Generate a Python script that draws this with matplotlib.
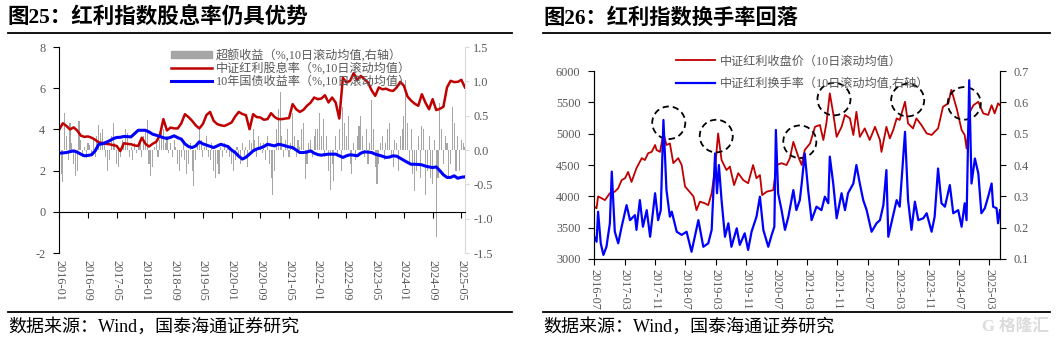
import numpy as np
import matplotlib
matplotlib.use("Agg")
import matplotlib.pyplot as plt
from matplotlib.patches import Ellipse, Patch
from matplotlib.lines import Line2D

plt.rcParams['font.family'] = ['Liberation Serif', 'Noto Sans CJK SC']
plt.rcParams['axes.unicode_minus'] = False

GREY_TXT = '#595959'
RED = '#c00000'
BLUE = '#0000ff'
BAR_GREY = '#a6a6a6'

# ---------- 图25 data: monthly, 2016-01 .. 2025-06 ----------
left_ticks = ['2016-01', '2016-09', '2017-05', '2018-01', '2018-09', '2019-05', '2020-01',
              '2020-09', '2021-05', '2022-01', '2022-09', '2023-05', '2024-01', '2024-09', '2025-05']

div_yield = [4.0, 4.3, 4.17, 4.0, 4.1, 3.95, 3.7, 3.64, 3.66, 3.6, 3.5, 3.37,
             3.35, 3.3, 3.28, 3.24, 3.2, 2.95, 3.33, 3.3, 3.28, 3.22, 3.2, 3.6,
             3.3, 3.17, 3.3, 3.4, 3.7, 4.5, 3.95, 4.09, 4.05, 4.05, 4.3, 4.74,
             4.6, 4.42, 4.2, 4.05, 4.26, 4.7, 4.85, 4.42, 4.26, 4.2, 4.17, 4.25,
             4.34, 4.63, 4.85, 4.75, 4.69, 4.01, 4.74, 4.6, 4.58, 4.47, 4.5, 4.79,
             4.6, 4.5, 4.5, 4.53, 4.55, 5.23, 4.98, 4.85, 4.95, 5.15, 5.3, 5.55,
             5.47, 5.5, 5.66, 5.31, 5.55, 5.3, 4.53, 6.5, 6.28, 6.36, 6.73, 6.4,
             6.6, 6.44, 6.28, 5.9, 5.63, 6.04, 5.95, 5.98, 5.9, 5.87, 6.04, 6.31,
             6.12, 5.6, 5.4, 5.25, 5.15, 5.71, 5.3, 4.98, 5.47, 4.94, 5.0, 5.1,
             6.04, 6.36, 6.3, 6.31, 6.41, 6.04]

bond_10y = [2.85, 2.86, 2.88, 2.92, 2.96, 2.9, 2.8, 2.72, 2.74, 2.77, 2.96, 3.28,
            3.3, 3.37, 3.45, 3.55, 3.61, 3.62, 3.66, 3.65, 3.64, 3.8, 3.96, 3.96,
            3.96, 3.88, 3.77, 3.72, 3.66, 3.6, 3.56, 3.62, 3.69, 3.6, 3.53, 3.3,
            3.17, 3.12, 3.2, 3.4, 3.3, 3.24, 3.18, 3.12, 3.2, 3.28, 3.22, 3.17,
            3.0, 2.88, 2.7, 2.56, 2.65, 2.8, 2.96, 3.05, 3.1, 3.17, 3.28, 3.24,
            3.2, 3.28, 3.25, 3.2, 3.15, 3.12, 3.0, 2.88, 2.88, 2.9, 2.96, 2.85,
            2.78, 2.75, 2.78, 2.8, 2.8, 2.8, 2.72, 2.64, 2.72, 2.77, 2.75, 2.72,
            2.85, 2.91, 2.9, 2.88, 2.8, 2.75, 2.7, 2.64, 2.66, 2.72, 2.7, 2.6,
            2.5, 2.4, 2.31, 2.31, 2.3, 2.28, 2.22, 2.18, 2.15, 2.18, 2.0, 1.8,
            1.67, 1.67, 1.75, 1.63, 1.68, 1.7]

# excess return, half-month steps (right axis)
excess = [0.05, -0.35, -0.46, 0.54, 0.2, -0.15, 0.39, 0.1, -0.2, -0.38, -0.3, 0.42,
          0.15, -0.1, 0.05, -0.12, 0.1, 0.08, -0.05, 0.15, -0.1, 0.2, 0.37, 0.25,
          0.3, 0.1, -0.1, -0.3, -0.15, 0.2, 0.4, 0.1, -0.2, -0.25, -0.1, 0.15,
          0.1, 0.3, 0.25, -0.1, 0.05, -0.15, 0.1, -0.05, 0.08, 0.15, -0.1, 0.2,
          0.3, 0.44, -0.2, -0.38, -0.25, 0.05, 0.1, -0.1, 0.15, 0.25, 0.3, 0.1,
          0.2, -0.05, 0.1, -0.1, 0.15, 0.05, -0.2, -0.3, -0.1, 0.1, -0.15, -0.35,
          -0.2, 0.1, -0.3, -0.53, -0.15, 0.1, 0.3, 0.15, -0.1, 0.05, 0.2, -0.1,
          -0.15, 0.1, -0.3, -0.4, -0.2, -0.35, 0.05, -0.1, 0.1, -0.05, 0.08, -0.1,
          -0.2, -0.3, -0.15, 0.05, -0.1, -0.2, 0.1, -0.15, 0.05, -0.25, 0.15, 0.1,
          0.3, 0.15, -0.1, 0.2, 0.1, -0.05, 0.1, -0.15, 0.2, -0.2, -0.4, -0.65,
          -0.3, 0.3, 0.6, 0.85, 0.2, -0.1, 0.15, 0.3, -0.1, 0.1, 0.54, 0.2,
          -0.1, 0.15, 0.05, 0.3, 0.39, -0.42, -0.2, 0.1, 0.15, -0.1, 0.2, 0.3,
          0.3, 0.54, 0.2, 0.45, -0.1, 0.2, -0.3, -0.58, -0.2, -0.45, 0.2, -0.1,
          0.3, -0.3, 0.63, 0.4, 0.2, 0.5, -0.2, -0.35, 0.1, -0.15, 0.2, 0.35,
          0.49, 0.2, -0.1, 0.3, -0.2, 0.1, 0.73, 0.3, -0.25, -0.5, -0.2, 0.1,
          0.2, -0.15, 0.1, 0.3, 0.4, -0.1, -0.25, 0.15, 0.1, -0.3, 0.2, 0.3,
          0.5, 1.02, 0.4, -0.2, 0.3, -0.35, -0.6, -0.3, 0.2, -0.4, 0.35, 0.3,
          -0.65, -0.3, 0.2, -0.4, -0.5, 0.15, -1.26, -0.4, 0.68, 0.3, -0.2, 0.2,
          0.1, -0.4, -0.2, 0.63, 0.4, -0.3, 0.2, -0.3, 0.15, 0.1, 0.05, -0.1]

# ---------- 图26 data: months after 2016-07 ----------
right_ticks = ['2016-07', '2017-03', '2017-11', '2018-07', '2019-03', '2019-11', '2020-07',
               '2021-03', '2021-11', '2022-07', '2023-03', '2023-11', '2024-07', '2025-03']

price_t = [0, 0.6, 1, 1.9, 2.8, 4.1, 5.4, 6.3, 7.2, 8.1, 8.9, 9.8, 11.1, 12.5, 13.3,
           14.2, 15.1, 16, 16.4, 17.3, 18.2, 19, 19.9, 20.8, 22.1, 23, 23.9, 24.7, 26.1, 26.9,
           27.8, 29.1, 30, 30.9, 31.8, 32.6, 33.5, 34.8, 35.7, 36.8, 37.9, 39.2, 40.5, 41.8, 42.7,
           43.6, 44.2, 45.4, 47.1, 48, 49.3, 50.6, 51.5, 52.4, 53.7, 54.6, 55.4, 56.8, 58.1, 59.4,
           60.3, 61.1, 62, 62.9, 63.8, 65.1, 66, 67.3, 68.2, 69, 69.9, 71.2, 72.5, 73.9, 75.2,
           75.6, 76.9, 77.8, 78.7, 79.6, 80.4, 81.8, 82.6, 83.9, 84.8, 86.1, 87.5, 88.8, 89.6, 90.5,
           91.8, 93.2, 94, 95.4, 96.7, 97.5, 98, 98.9, 99.8, 101.1, 102.4, 103.7, 104.6, 105.4, 106.3,
           106.8]
price_v = [3835, 3810, 4000, 3970, 3940, 4050, 4075, 4130, 4260, 4290, 4390, 4230, 4450, 4610, 4580,
           4690, 4710, 4820, 4740, 4710, 5005, 4820, 4845, 4530, 4610, 4500, 4155, 4100, 4000, 3780,
           3915, 3890, 3860, 4050, 4450, 5005, 4580, 4420, 4475, 4180, 4370, 4260, 4210, 4500, 4290,
           4340, 4020, 4075, 4100, 4500, 4530, 4500, 4610, 4870, 4635, 4500, 4740, 4845, 5110, 5140,
           4900, 5165, 5645, 5325, 4950, 5110, 5300, 5245, 4980, 5350, 4950, 5085, 4900, 5110, 4900,
           4710, 5110, 4925, 5060, 5245, 5220, 5510, 5165, 5085, 5245, 5140, 5005, 4980, 5030, 5085,
           5430, 5485, 5700, 5405, 5060, 4980, 4765, 5350, 5455, 5510, 5325, 5300, 5455, 5325, 5485,
           5455]

turn_t = [0, 0.6, 1, 1.7, 2.4, 3.2, 4.1, 4.6, 5.4, 6.3,
          7.2, 8.5, 9.4, 10.7, 11.1, 12, 12.8, 13.8, 14.7, 16,
          16.8, 17.5, 18.2, 19, 19.9, 20.4, 21.7, 23, 24.3, 25.6,
          27.4, 28.7, 30, 30.9, 31.8, 32.3, 32.8, 33.5, 34.4, 35.3,
          36.1, 37.5, 38.3, 39.6, 40.5, 41.4, 42.7, 43.6, 44.5, 45.8,
          46.7, 47.4, 47.8, 48.4, 49.3, 50.2, 51.1, 52.4, 53.2, 54.1,
          54.6, 55.4, 56.3, 57.2, 58.5, 59.8, 60.7, 61.6, 62, 62.9,
          63.8, 65.1, 66, 66.8, 68.2, 69, 69.9, 70.8, 71.7, 73,
          74.3, 75.2, 76.1, 76.9, 77.4, 78.2, 79.6, 80.4, 81.8, 82.6,
          83.5, 84.4, 85.3, 86.6, 87.5, 88.8, 89.6, 90.5, 91.4, 92.3,
          93.6, 94.5, 95.8, 96.7, 97.5, 98, 98.7, 99.3, 100.2, 101.1,
          101.9, 102.8, 103.7, 104.6, 105, 105.9, 106.3, 106.8]
turn_v = [0.171, 0.155, 0.251, 0.15, 0.113, 0.139, 0.214, 0.379, 0.187, 0.15,
          0.203, 0.272, 0.224, 0.24, 0.193, 0.288, 0.203, 0.256, 0.171, 0.31,
          0.224, 0.256, 0.544, 0.32, 0.235, 0.251, 0.187, 0.177, 0.187, 0.123,
          0.224, 0.139, 0.15, 0.193, 0.437, 0.31, 0.4, 0.288, 0.171, 0.214,
          0.139, 0.198, 0.145, 0.182, 0.129, 0.187, 0.235, 0.299, 0.193, 0.139,
          0.177, 0.203, 0.512, 0.31, 0.256, 0.193, 0.235, 0.32, 0.256, 0.288,
          0.341, 0.437, 0.32, 0.224, 0.267, 0.256, 0.299, 0.278, 0.427, 0.341,
          0.23, 0.31, 0.256, 0.31, 0.341, 0.4, 0.341, 0.288, 0.256, 0.187,
          0.214, 0.224, 0.272, 0.384, 0.171, 0.214, 0.288, 0.267, 0.506, 0.288,
          0.193, 0.283, 0.224, 0.23, 0.246, 0.187, 0.235, 0.389, 0.278, 0.267,
          0.336, 0.246, 0.256, 0.203, 0.278, 0.224, 0.671, 0.341, 0.421, 0.373,
          0.246, 0.262, 0.299, 0.341, 0.267, 0.262, 0.214, 0.256]

# dashed rings around the price peaks (month, price level)
ring_t = [19.6, 32.1, 54.1, 63.1, 82.5, 97.4]
ring_p = [5175, 4963, 4872, 5553, 5537, 5485]

fig = plt.figure(figsize=(10.62, 3.41), dpi=100)

# ================= 图25 =================
ax = fig.add_axes([0.0558, 0.258, 0.382, 0.604])
axr = ax.twinx()

m = np.arange(len(div_yield))
h = np.arange(len(excess)) / 2.0
axr.bar(h, excess, width=0.3, color=BAR_GREY, linewidth=0)
l1, = ax.plot(m, div_yield, color=RED, lw=1.8, label='中证红利股息率（%,10日滚动均值）')
l2, = ax.plot(m, bond_10y, color=BLUE, lw=2.2, label='10年国债收益率（%,10日滚动均值）')

ax.set_zorder(axr.get_zorder() + 1)
ax.patch.set_visible(False)

ax.set_xlim(0, 113)
ax.set_ylim(-2, 8)
ax.set_yticks([-2, 0, 2, 4, 6, 8])
axr.set_ylim(-1.5, 1.5)
axr.set_yticks([-1.5, -1.0, -0.5, 0.0, 0.5, 1.0, 1.5])
axr.set_yticklabels(['-1.5', '-1.0', '-0.5', '0.0', '0.5', '1.0', '1.5'])

for s in ['top', 'bottom', 'right']:
    ax.spines[s].set_visible(False)
for s in ['top', 'bottom', 'left']:
    axr.spines[s].set_visible(False)
ax.spines['left'].set_color('black')
axr.spines['right'].set_color('#d9d9d9')

ax.set_xticks(np.arange(0, 113, 8))
ax.set_xticklabels(left_ticks, rotation=270, fontsize=8.8, color=GREY_TXT)
ax.tick_params(axis='x', length=0, pad=5)
ax.tick_params(axis='y', direction='out', length=4, labelsize=8.8, labelcolor=GREY_TXT, pad=6)
axr.tick_params(axis='y', direction='out', length=3, color='#d9d9d9', labelsize=8.8,
                labelcolor=GREY_TXT, pad=3)

# zero line with month ticks
zero = ax.secondary_xaxis(0.2)
zero.set_xticks(np.arange(0, 113, 8))
zero.set_xticklabels([])
zero.tick_params(direction='out', length=4)
zero.spines['bottom'].set_color('black')

ax.legend(handles=[Patch(color=BAR_GREY, label='超额收益（%,10日滚动均值,右轴）'), l1, l2],
          loc='upper left', bbox_to_anchor=(0.26, 1.02), frameon=False, fontsize=8.7,
          handlelength=3.4, handleheight=0.5, labelspacing=0.02, borderpad=0,
          handletextpad=0.35, labelcolor=GREY_TXT)

# ================= 图26 =================
bx = fig.add_axes([0.5596, 0.2405, 0.382, 0.551])
bxr = bx.twinx()
p1, = bx.plot(price_t, price_v, color=RED, lw=1.3, label='中证红利收盘价（10日滚动均值）')
p2, = bxr.plot(turn_t, turn_v, color=BLUE, lw=1.6, label='中证红利换手率（10日滚动均值,右轴）')

for t, p in zip(ring_t, ring_p):
    bx.add_patch(Ellipse((t, p), width=8.7, height=520, fill=False, edgecolor='black',
                         lw=1.3, linestyle=(0, (3.5, 2.2)), zorder=5))

bx.set_xlim(0, 106.8)
bx.set_ylim(3000, 6000)
bx.set_yticks(np.arange(3000, 6001, 500))
bxr.set_ylim(0.1, 0.7)
bxr.set_yticks(np.arange(0.1, 0.71, 0.1))
bxr.set_yticklabels(['0.1', '0.2', '0.3', '0.4', '0.5', '0.6', '0.7'])
for a in (bx, bxr):
    a.spines['top'].set_visible(False)
bx.set_xticks(np.arange(0, 105, 8))
bx.set_xticklabels(right_ticks, rotation=270, fontsize=8.8, color=GREY_TXT)
bx.tick_params(axis='x', direction='out', length=4, pad=3)
bx.tick_params(axis='y', direction='out', length=4, labelsize=8.8, labelcolor=GREY_TXT, pad=6)
bxr.tick_params(axis='y', direction='out', length=4, labelsize=8.8, labelcolor=GREY_TXT, pad=6)

fig.legend(handles=[p1, p2], loc='upper left', bbox_to_anchor=(0.631, 0.855),
           frameon=False, fontsize=8.7, handlelength=3.2, labelspacing=0.8, borderpad=0,
           handletextpad=0.45, labelcolor=GREY_TXT)

# ================= titles, rules, source =================
fig.text(0.0075, 0.947, '图25：红利指数股息率仍具优势', fontsize=15.5, fontweight='bold', va='center')
fig.text(0.512, 0.947, '图26：红利指数换手率回落', fontsize=15.3, fontweight='bold', va='center')
for x0, x1 in [(0.0075, 0.482), (0.511, 0.989)]:
    fig.add_artist(Line2D([x0, x1], [0.903, 0.903], color='black', lw=1.3))
    fig.add_artist(Line2D([x0, x1], [0.085, 0.085], color='black', lw=1.3))
fig.text(0.0075, 0.042, '数据来源：Wind，国泰海通证券研究', fontsize=13, va='center')
fig.text(0.512, 0.042, '数据来源：Wind，国泰海通证券研究', fontsize=13, va='center')
fig.text(0.988, 0.042, 'G 格隆汇', fontsize=12, va='center', ha='right', color='#dcdcdc',
         fontweight='bold')

fig.savefig('out.png', dpi=100)
